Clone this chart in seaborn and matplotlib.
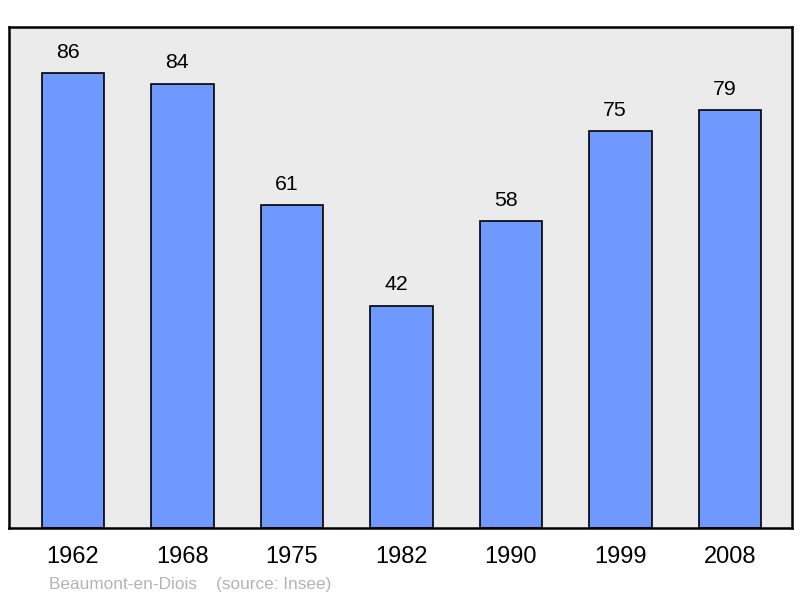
import matplotlib
matplotlib.use("Agg")
import matplotlib.pyplot as plt
import seaborn as sns
import pandas as pd

years = ["1962", "1968", "1975", "1982", "1990", "1999", "2008"]
population = [86, 84, 61, 42, 58, 75, 79]

sns.set_style("white")
plt.rcParams['font.family'] = ['Liberation Sans', 'DejaVu Sans']

df = pd.DataFrame({"year": years, "pop": population})

fig = plt.figure(figsize=(8, 5.98), dpi=100)
ax = fig.add_axes([9/800, 1 - 528/598, 783/800, 501/598])
ax.set_facecolor("#ebebeb")

sns.barplot(data=df, x="year", y="pop", color="#7099ff", width=0.57,
            edgecolor="black", linewidth=1.2, saturation=1, ax=ax)

for i, v in enumerate(population):
    ax.text(i - 0.05, v + 21/5.29, str(v), ha="center", va="center", fontsize=15.3, color="black")

ax.set_xlim(-0.584, 6.566)
ax.set_ylim(0, 94.7)
ax.set_yticks([])
ax.set_xlabel("")
ax.set_ylabel("")
ax.tick_params(axis="x", length=0, pad=13, labelsize=17, labelcolor="black")
for s in ax.spines.values():
    s.set_visible(True)
    s.set_color("black")
    s.set_linewidth(1.8)

fig.text(49/800, 1 - 584/598, "Beaumont-en-Diois    (source: Insee)", fontsize=12.4,
         color="#b4b4b4", ha="left", va="center")

fig.savefig("out.png", dpi=100)
